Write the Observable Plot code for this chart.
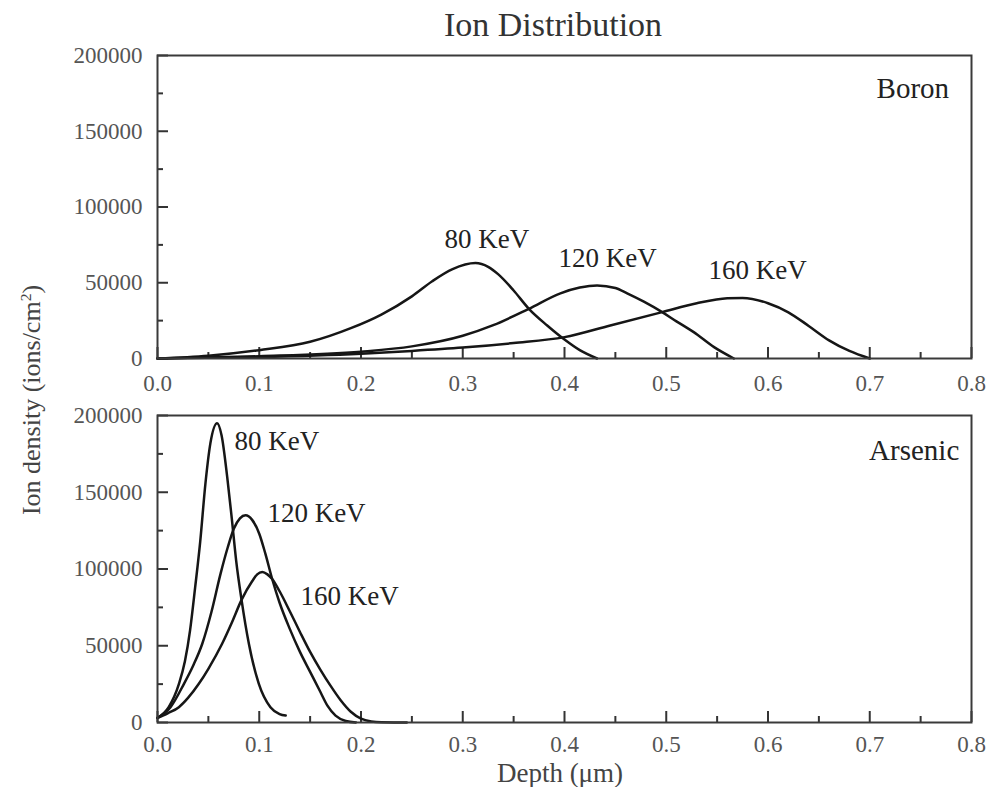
<!DOCTYPE html>
<html><head><meta charset="utf-8">
<script src="https://cdn.jsdelivr.net/npm/d3@7"></script>
<script src="https://cdn.jsdelivr.net/npm/@observablehq/plot@0.6"></script>
<style>
body{margin:0;background:#fff;}
#wrap{position:relative;width:991px;height:787px;font-family:"Liberation Serif","Times New Roman",serif;overflow:hidden;}
#wrap svg{position:absolute;left:0;}
.t{position:absolute;white-space:nowrap;color:#333;}
#title{left:553px;top:25px;transform:translate(-50%,-50%);font-size:34px;}
#ylab{left:32px;top:400px;transform:translate(-50%,-50%) rotate(-90deg);font-size:26px;color:#444;}
#xlab{left:560px;top:773px;transform:translate(-50%,-50%);font-size:27px;color:#444;}
sup{font-size:0.6em;}
</style></head><body>
<div id="wrap">
  <div class="t" id="title">Ion Distribution</div>
  <div class="t" id="ylab">Ion density (ions/cm<sup>2</sup>)</div>
  <div class="t" id="xlab">Depth (μm)</div>
</div>
<script>
// ---- data (depth in µm, density in ions/cm²) ----
const energies = ["80 KeV", "120 KeV", "160 KeV"];

const boron80 = [[0,0],[0.05,1800],[0.1,5500],[0.15,11000],[0.19,20000],[0.22,29000],[0.25,41000],[0.27,51000],[0.29,59000],[0.3125,63000],[0.325,60500],[0.335,55500],[0.35,44900],[0.365,32800],[0.383,21800],[0.4,12500],[0.415,5500],[0.432,0]];
const boron120 = [[0,0],[0.1,1500],[0.2,4500],[0.25,8000],[0.3,15000],[0.33,22000],[0.365,32800],[0.396,43000],[0.415,46800],[0.432,48200],[0.45,46500],[0.4616,43000],[0.478,37500],[0.496,30600],[0.51,24500],[0.527,17400],[0.547,7500],[0.5665,0]];
const boron160 = [[0,0],[0.1,1000],[0.2,3200],[0.25,5000],[0.3,7200],[0.35,10200],[0.4,14100],[0.445,21800],[0.496,30600],[0.53,36500],[0.56,39800],[0.575,40000],[0.6,36500],[0.62,30500],[0.64,21500],[0.66,12000],[0.68,5000],[0.7,0]];

const arsenic80 = [[0,3000],[0.011,10000],[0.021,25000],[0.027,40000],[0.032,60000],[0.037,88000],[0.042,118000],[0.047,155000],[0.052,182000],[0.0586,195000],[0.063,187000],[0.0685,160000],[0.073,133000],[0.0773,105500],[0.0826,79900],[0.0898,51300],[0.0996,25200],[0.111,10000],[0.12,5500],[0.126,4500]];
const arsenic120 = [[0,3000],[0.0128,10000],[0.026,25200],[0.035,37000],[0.044,51300],[0.053,72000],[0.062,97000],[0.069,114000],[0.075,126200],[0.081,133000],[0.0865,135000],[0.093,132000],[0.1,123000],[0.106,110000],[0.1127,93500],[0.12,78000],[0.13,61000],[0.14,46000],[0.15,33000],[0.16,20000],[0.167,11000],[0.175,4500],[0.185,1000],[0.195,0]];
const arsenic160 = [[0,3000],[0.01,6000],[0.021,10000],[0.03,16000],[0.0406,25200],[0.05,35000],[0.0635,51300],[0.073,65000],[0.0826,79900],[0.093,92000],[0.098,96500],[0.103,98000],[0.108,96500],[0.1127,93500],[0.12,85500],[0.13,72500],[0.14,59000],[0.15,46000],[0.16,34500],[0.17,24000],[0.18,14500],[0.19,7000],[0.2,2500],[0.21,700],[0.22,150],[0.245,0]];

// annotation anchors (data units)
const boronLabels = [["80 KeV",0.282,78500],["120 KeV",0.394,66000],["160 KeV",0.5415,58100]];
const arsenicLabels = [["80 KeV",0.0757,183000],["120 KeV",0.108,136200],["160 KeV",0.1405,82100]];
const panelNames = [["Boron",0.778,178200],["Arsenic",0.788,177200]];

const depthTicks = [0,0.1,0.2,0.3,0.4,0.5,0.6,0.7,0.8];
const depthMinor = [0.05,0.15,0.25,0.35,0.45,0.55,0.65,0.75];
const densityTicks = [0,50000,100000,150000,200000];
const densityMinor = [25000,75000,125000,175000];

function toRows(seriesList) {
  return seriesList.flatMap((s, i) => s.map(([depth, density]) => ({depth, density, energy: energies[i]})));
}
function toLabels(list) { return list.map(([text, depth, density]) => ({text, depth, density})); }

const W = 991, ML = 157, MR = 20;
const X_DOMAIN = [0, 0.8], Y_DOMAIN = [0, 200000];

function panel({series, labels, name, height, marginTop, marginBottom, xPad}) {
  const innerH = height - marginTop - marginBottom;
  const innerW = W - ML - MR;
  // convert tick pixel lengths into data units of each scale
  const yLen = px => px / innerH * (Y_DOMAIN[1] - Y_DOMAIN[0]);
  const xLen = px => px / innerW * (X_DOMAIN[1] - X_DOMAIN[0]);
  const tickStyle = {stroke: "#333", strokeWidth: 2};
  return Plot.plot({
    width: W, height, marginLeft: ML, marginRight: MR, marginTop, marginBottom,
    x: {domain: X_DOMAIN, label: null},
    y: {domain: Y_DOMAIN, label: null},
    style: {fontFamily: "Liberation Serif, Times New Roman, serif", background: "transparent", overflow: "visible"},
    marks: [
      Plot.ruleX(depthTicks, {x: d => d, y1: Y_DOMAIN[0], y2: Y_DOMAIN[0] + yLen(11), ...tickStyle}),
      Plot.ruleX(depthMinor, {x: d => d, y1: Y_DOMAIN[0], y2: Y_DOMAIN[0] + yLen(6), ...tickStyle}),
      Plot.ruleY(densityTicks, {y: d => d, x1: X_DOMAIN[0], x2: X_DOMAIN[0] + xLen(11), ...tickStyle}),
      Plot.ruleY(densityMinor, {y: d => d, x1: X_DOMAIN[0], x2: X_DOMAIN[0] + xLen(6), ...tickStyle}),
      Plot.axisX(depthTicks, {tickSize: 0, tickPadding: xPad, tickFormat: d => d.toFixed(1), fontSize: 23, fill: "#555", label: null}),
      Plot.axisY(densityTicks, {tickSize: 0, tickPadding: 15, tickFormat: d => String(d), fontSize: 23, fill: "#555", label: null}),
      Plot.line(toRows(series), {x: "depth", y: "density", z: "energy", stroke: "#161616", strokeWidth: 2.5, curve: "monotone-x"}),
      Plot.text(toLabels(labels), {x: "depth", y: "density", text: "text", textAnchor: "start", fontSize: 27, fill: "#222"}),
      Plot.text(toLabels([name]), {x: "depth", y: "density", text: "text", textAnchor: "end", fontSize: 29, fill: "#222"}),
      Plot.frame({stroke: "#3a3a3a", strokeWidth: 2})
    ]
  });
}

const wrap = document.getElementById("wrap");
const topPanel = panel({series: [boron80, boron120, boron160], labels: boronLabels, name: panelNames[0],
  height: 400, marginTop: 55, marginBottom: 42, xPad: 16});
topPanel.style.top = "0px";
wrap.appendChild(topPanel);
const bottomPanel = panel({series: [arsenic80, arsenic120, arsenic160], labels: arsenicLabels, name: panelNames[1],
  height: 387, marginTop: 15, marginBottom: 65, xPad: 13});
bottomPanel.style.top = "400px";
wrap.appendChild(bottomPanel);
</script>
</body></html>
